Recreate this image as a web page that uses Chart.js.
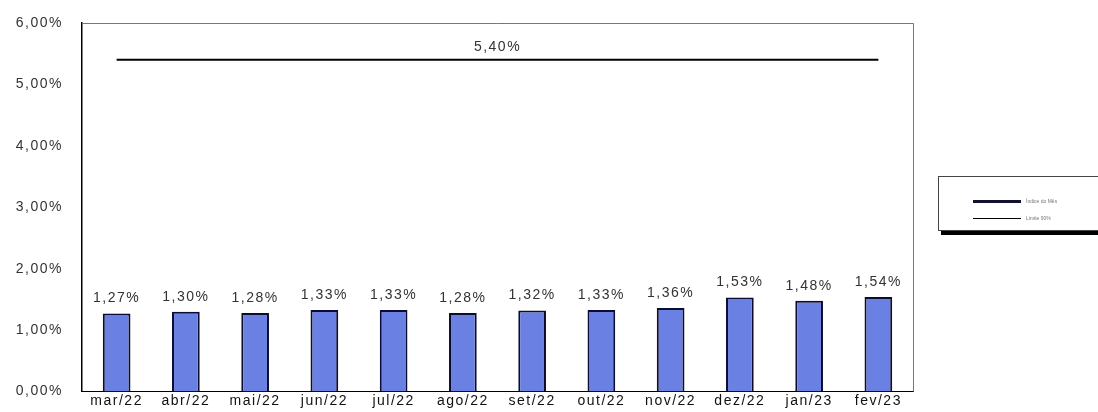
<!DOCTYPE html>
<html>
<head>
<meta charset="utf-8">
<script src="https://cdn.jsdelivr.net/npm/chart.js@4/dist/chart.umd.min.js"></script>
<style>
  html, body { margin: 0; padding: 0; background: #fff; overflow: hidden; }
  #wrap { position: relative; width: 1098px; height: 412px; overflow: hidden; }
  #legendBox {
    position: absolute; left: 938px; top: 176px; width: 162px; height: 53px;
    border: 1px solid #444; background: #fff;
    box-shadow: 3px 4px 0 #000;
    font-family: "Liberation Sans", Arial, sans-serif; font-size: 5px; color: #777;
  }
  .lg { position: absolute; left: 34px; display: flex; align-items: center; }
  .lg span.s { display: inline-block; width: 48px; background: #000; margin-right: 5px; }
</style>
</head>
<body>
<div id="wrap">
  <canvas id="c" width="1098" height="414"></canvas>
  <div id="legendBox">
    <div class="lg" style="top:21px"><span class="s" style="height:3px;background:#101030"></span>Índice do Mês</div>
    <div class="lg" style="top:38px"><span class="s" style="height:1px"></span>Limite 90%</div>
  </div>
</div>
<script>
  "use strict";

  const months = ["mar/22", "abr/22", "mai/22", "jun/22", "jul/22", "ago/22",
                  "set/22", "out/22", "nov/22", "dez/22", "jan/23", "fev/23"];
  const monthRate = [1.27, 1.30, 1.28, 1.33, 1.33, 1.28, 1.32, 1.33, 1.36, 1.53, 1.48, 1.54];
  const limitRate = [5.40, 5.40, 5.40, 5.40, 5.40, 5.40, 5.40, 5.40, 5.40, 5.40, 5.40, 5.40];
  const yTicks = [0, 1, 2, 3, 4, 5, 6];

  const FONT = "'Liberation Sans', Arial, sans-serif";

  function pct(v) {
    return v.toFixed(2).replace(".", ",") + "%";
  }

  // wide-looking text like the original
  const spacingPlugin = {
    id: "spacing",
    beforeInit(chart) { chart.ctx.letterSpacing = "1.5px"; },
    beforeDraw(chart) { chart.ctx.letterSpacing = "1.5px"; }
  };

  // Value labels above bars + single label in the middle of the limit line
  const labelPlugin = {
    id: "labels",
    afterDatasetsDraw(chart) {
      const ctx = chart.ctx;
      ctx.save();
      ctx.font = "14px " + FONT;
      ctx.fillStyle = "#333";
      ctx.textAlign = "center";
      ctx.textBaseline = "bottom";

      chart.getDatasetMeta(0).data.forEach(function (bar, i) {
        ctx.fillText(pct(monthRate[i]), bar.x, bar.y - 8);
      });

      const pts = chart.getDatasetMeta(1).data;
      const mid = (pts[0].x + pts[pts.length - 1].x) / 2;
      ctx.fillText(pct(limitRate[0]), mid, pts[0].y - 6);
      ctx.restore();
    }
  };

  // Plot area frame (top and right edges)
  const framePlugin = {
    id: "frame",
    beforeDatasetsDraw(chart) {
      const a = chart.chartArea;
      const ctx = chart.ctx;
      ctx.save();
      ctx.strokeStyle = "#777";
      ctx.lineWidth = 1;
      ctx.beginPath();
      ctx.moveTo(a.left, a.top + 0.5);
      ctx.lineTo(a.right + 0.5, a.top + 0.5);
      ctx.lineTo(a.right + 0.5, a.bottom);
      ctx.stroke();
      ctx.restore();
    }
  };

  new Chart(document.getElementById("c"), {
    data: {
      labels: months,
      datasets: [
        {
          type: "bar",
          label: "Índice do Mês",
          data: monthRate,
          backgroundColor: "#6a80e2",
          borderColor: "#0c0c30",
          borderWidth: 2,
          categoryPercentage: 1,
          barPercentage: 0.4,
          order: 2
        },
        {
          type: "line",
          label: "Limite 90%",
          data: limitRate,
          borderColor: "#000",
          borderWidth: 2,
          pointRadius: 0,
          fill: false,
          order: 1
        }
      ]
    },
    options: {
      responsive: false,
      animation: false,
      layout: { padding: { top: 23, right: 185, left: 0, bottom: 0 } },
      plugins: {
        legend: { display: false },
        tooltip: { enabled: false }
      },
      scales: {
        x: {
          grid: { display: false, drawTicks: false },
          border: { color: "#000", width: 1 },
          ticks: {
            color: "#111",
            padding: 1,
            maxRotation: 0,
            autoSkip: false,
            font: { family: FONT, size: 14 }
          },
          afterFit(scale) { scale.height = 20; }
        },
        y: {
          min: 0,
          max: 6,
          afterBuildTicks(scale) {
            scale.ticks = yTicks.map(function (v) { return { value: v }; });
          },
          grid: { display: false, drawTicks: true, tickLength: 5, tickColor: "#000" },
          border: { color: "#000", width: 1.5 },
          ticks: {
            color: "#333",
            padding: 14,
            font: { family: FONT, size: 14 },
            callback: function (v) { return pct(v); }
          },
          afterFit(scale) { scale.width = 82; }
        }
      }
    },
    plugins: [spacingPlugin, framePlugin, labelPlugin]
  });
</script>
</body>
</html>
